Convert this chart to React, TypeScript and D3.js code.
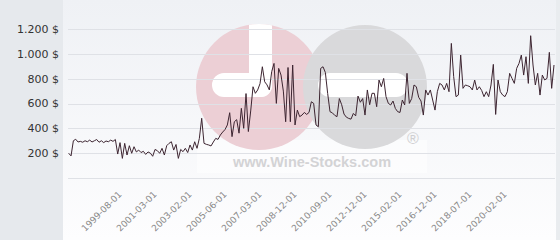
import React from 'react';
import * as d3 from 'd3';

const prices: number[] = [
  199, 178, 300, 312, 290, 295, 288, 300, 292, 305, 290, 300, 310, 288, 300, 285, 298, 292, 305, 295,
  310, 193, 285, 158, 279, 185, 260, 199, 252, 210, 225, 205, 215, 190, 210, 200, 175, 230, 220, 199,
  239, 185, 260, 279, 292, 225, 270, 158, 230, 212, 239, 205, 266, 225, 292, 239, 319, 481, 279, 271,
  266, 258, 290, 319, 311, 346, 370, 390, 427, 526, 333, 453, 470, 361, 561, 400, 680, 374, 540, 735,
  682, 709, 760, 896, 775, 750, 709, 856, 923, 601, 883, 829, 700, 453, 890, 453, 910, 427, 547, 494,
  507, 528, 512, 528, 614, 601, 427, 413, 883, 896, 850, 680, 534, 525, 505, 494, 640, 590, 515, 490,
  480, 474, 520, 500, 660, 610, 640, 507, 709, 590, 682, 682, 574, 789, 735, 802, 655, 601, 588, 620,
  560, 534, 528, 628, 588, 843, 601, 640, 749, 735, 650, 620, 507, 709, 668, 709, 628, 547, 695, 762,
  749, 709, 762, 695, 1084, 816, 655, 668, 990, 722, 749, 743, 735, 709, 789, 709, 735, 705, 655, 695,
  655, 749, 915, 512, 789, 695, 668, 655, 695, 843, 802, 762, 883, 923, 990, 829, 977, 762, 1146, 910,
  749, 843, 668, 829, 790, 802, 1012, 722, 910,
];

const tickLabels: string[] = [
  '1999-08-01', '2001-03-01', '2003-02-01', '2005-06-01', '2007-03-01', '2008-12-01',
  '2010-09-01', '2012-12-01', '2015-02-01', '2016-12-01', '2018-07-01', '2020-02-01',
];
const tickFirstIndex = 23;
const tickStep = 15;

const yTicks: number[] = [200, 400, 600, 800, 1000, 1200];

const FONT = '"DejaVu Sans", Verdana, sans-serif';

export default function App() {
  const x = d3.scaleLinear().domain([0, prices.length - 1]).range([68.7, 554]);
  const y = d3.scaleLinear().domain([0, 1200]).range([178, 29]);
  const line = d3
    .line<number>()
    .x((_, i) => x(i))
    .y((d) => y(d));
  const fmt = (v: number) => d3.format(',')(v).replace(/,/g, '.') + ' $';
  const crisp = (v: number) => Math.round(v) + 0.5;

  return (
    <svg
      width={560}
      height={240}
      style={{ position: 'absolute', left: 0, top: 0 }}
      xmlns="http://www.w3.org/2000/svg"
    >
      <defs>
        <linearGradient id="bg" x1="0" y1="0" x2="0" y2="1">
          <stop offset="0%" stopColor="#eff1f5" />
          <stop offset="100%" stopColor="#fdfdfe" />
        </linearGradient>
        <clipPath id="pinkClip">
          <circle cx={259} cy={87} r={63} />
        </clipPath>
        <clipPath id="greyClip">
          <circle cx={365} cy={87} r={62} />
        </clipPath>
      </defs>
      <rect x={0} y={0} width={560} height={240} fill="url(#bg)" />
      <rect x={0} y={0} width={63} height={240} fill="#e6e9ed" />
      <rect x={556} y={0} width={4} height={240} fill="#e9ecef" />

      {/* watermark */}
      <g>
        <rect x={197} y={140} width={230} height={33} fill="#ffffff" opacity={0.55} />
        <circle cx={259} cy={87} r={63} fill="#eccfd5" />
        <g clipPath="url(#pinkClip)">
          <rect x={249} y={10} width={23} height={87} rx={11} fill="#ffffff" />
          <rect x={212} y={73} width={60} height={24} rx={12} fill="#ffffff" />
        </g>
        <circle cx={365} cy={87} r={62} fill="#d9d9db" />
        <g clipPath="url(#greyClip)">
          <rect x={318} y={73} width={90} height={24} rx={12} fill="#ffffff" />
        </g>
        <text
          x={413}
          y={140}
          fontFamily='"Liberation Sans", Arial, sans-serif'
          fontSize={16}
          fill="#cfcfd1"
          textAnchor="middle"
          dominantBaseline="middle"
        >
          ®
        </text>
        <text
          x={312}
          y={167}
          fontFamily='"Liberation Sans", Arial, sans-serif'
          fontWeight="bold"
          fontSize={14.5}
          fill="#d3d3d5"
          textAnchor="middle"
        >
          www.Wine-Stocks.com
        </text>
      </g>

      {/* grid */}
      <g>
        {[0, ...yTicks].map((t) => (
          <line
            key={t}
            x1={68}
            x2={555}
            y1={crisp(y(t))}
            y2={crisp(y(t))}
            stroke="#dfe1e6"
            strokeWidth={1}
          />
        ))}
      </g>

      {/* y labels */}
      <g fontFamily={FONT} fontSize={11} fill="#333333">
        {yTicks.map((t) => (
          <text key={t} x={59} y={y(t)} dy="0.36em" textAnchor="end">
            {fmt(t)}
          </text>
        ))}
      </g>

      {/* x labels */}
      <g fontFamily={FONT} fontSize={9} fill="#888888">
        {tickLabels.map((lab, k) => {
          const xi = x(tickFirstIndex + k * tickStep);
          return (
            <text key={lab} transform={`translate(${xi},${195}) rotate(-45)`} textAnchor="end">
              {lab}
            </text>
          );
        })}
      </g>

      {/* series */}
      <path d={line(prices) || ''} fill="none" stroke="#3d2531" strokeWidth={1} strokeLinejoin="miter" />
    </svg>
  );
}
